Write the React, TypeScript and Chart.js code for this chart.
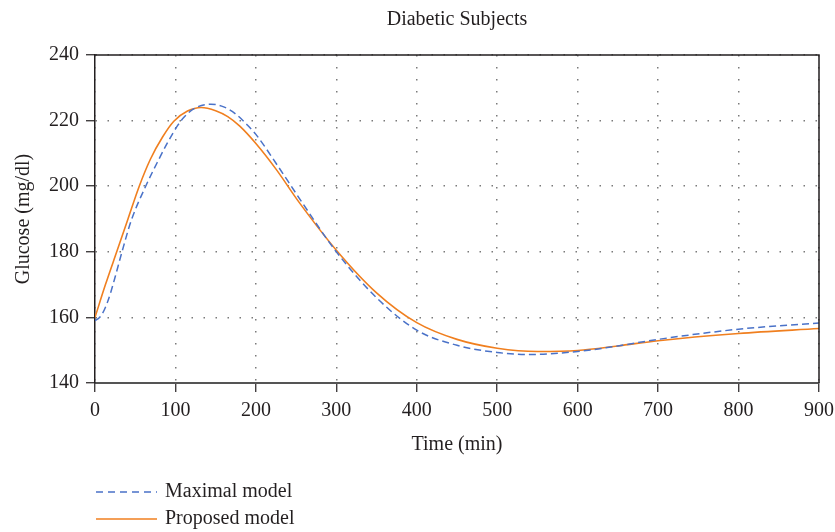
import React, { useEffect, useRef } from 'react';
import { Chart, registerables } from 'chart.js';

Chart.register(...registerables);

const chartTitle = 'Diabetic Subjects';
const xAxisTitle = 'Time (min)';
const yAxisTitle = 'Glucose (mg/dl)';
const seriesLabels = ['Maximal model', 'Proposed model'];
const seriesColors = ['#4a72c8', '#f07f1f'];

const xTicks = [0, 100, 200, 300, 400, 500, 600, 700, 800, 900];
const yTicks = [140, 160, 180, 200, 220, 240];

const timeMaximal = [0, 5, 10, 15, 20, 25, 33, 45, 63, 80, 90, 103, 112, 125, 144, 160, 175, 190, 200, 225, 254, 300, 350, 400, 450, 500, 540, 600, 650, 700, 800, 900];
const glucoseMaximal = [159, 159.8, 161.5, 164.3, 168, 172.3, 179.5, 189.5, 200, 208.5, 213.2, 218.6, 221.4, 223.9, 225, 224.2, 222, 218.5, 215.8, 207, 196.3, 180, 166, 156.1, 151.5, 149.3, 148.7, 149.6, 151.3, 153.3, 156.4, 158.3];

const timeProposed = [0, 13, 27, 41, 55, 69, 84, 98, 115, 132, 150, 165, 180, 200, 225, 254, 300, 350, 400, 450, 500, 550, 600, 650, 700, 800, 900];
const glucoseProposed = [160, 170, 180, 190, 200, 208.3, 215, 219.8, 222.9, 224, 223, 221.2, 218.3, 213, 205.2, 195, 180.5, 167.5, 158.4, 153.3, 150.6, 149.6, 149.9, 151.3, 152.9, 155.1, 156.6];

export default function App() {
  const ref = useRef<HTMLCanvasElement>(null);

  useEffect(() => {
    if (!ref.current) return;
    const FONT = "'Liberation Serif', 'Times New Roman', serif";
    const INK = '#231f20';
    const GRID = '#7a7a7a';

    const frameLegend = {
      id: 'frameLegend',
      afterDraw(chart: any) {
        const { ctx, chartArea: a } = chart;
        ctx.save();
        ctx.strokeStyle = INK;
        ctx.lineWidth = 1.5;
        ctx.setLineDash([]);
        ctx.beginPath();
        ctx.moveTo(a.left, a.top);
        ctx.lineTo(a.right, a.top);
        ctx.lineTo(a.right, a.bottom);
        ctx.stroke();

        // title centred over the plot area
        ctx.fillStyle = INK;
        ctx.font = `20px ${FONT}`;
        ctx.textAlign = 'center';
        ctx.textBaseline = 'middle';
        ctx.fillText(chartTitle, (a.left + a.right) / 2, a.top - 35);

        const rows = [a.bottom + 109, a.bottom + 136];
        const dashes = [[7, 5], []];
        seriesLabels.forEach((label, i) => {
          const y = rows[i];
          ctx.strokeStyle = seriesColors[i];
          ctx.lineWidth = 1.5;
          ctx.setLineDash(dashes[i]);
          ctx.beginPath();
          ctx.moveTo(a.left + 1, y);
          ctx.lineTo(a.left + 62, y);
          ctx.stroke();
          ctx.setLineDash([]);
          ctx.fillStyle = INK;
          ctx.textAlign = 'left';
          ctx.textBaseline = 'middle';
          ctx.fillText(label, a.left + 70, y);
        });
        ctx.restore();
      },
    };

    const chart = new Chart(ref.current, {
      type: 'line',
      data: {
        datasets: [
          {
            label: seriesLabels[0],
            data: timeMaximal.map((t, i) => ({ x: t, y: glucoseMaximal[i] })),
            borderColor: seriesColors[0],
            borderWidth: 1.5,
            borderDash: [7, 4],
            pointRadius: 0,
            fill: false,
            cubicInterpolationMode: 'monotone',
          },
          {
            label: seriesLabels[1],
            data: timeProposed.map((t, i) => ({ x: t, y: glucoseProposed[i] })),
            borderColor: seriesColors[1],
            borderWidth: 1.6,
            pointRadius: 0,
            fill: false,
            cubicInterpolationMode: 'monotone',
          },
        ],
      },
      options: {
        responsive: false,
        animation: false,
        layout: { padding: { left: 0, right: 16, top: 55, bottom: 72 } },
        plugins: {
          legend: { display: false },
          tooltip: { enabled: false },
          title: { display: false },
        },
        scales: {
          x: {
            type: 'linear',
            min: 0,
            max: 900,
            afterBuildTicks: (s: any) => { s.ticks = xTicks.map((v) => ({ value: v })); },
            afterFit: (s: any) => { s.height = 77; s.paddingLeft = 0; s.paddingRight = 0; },
            ticks: { color: INK, font: { family: FONT, size: 20 }, padding: 7, maxRotation: 0, autoSkip: false },
            grid: { color: GRID, lineWidth: 1.5, tickColor: INK, tickLength: 9, tickWidth: 1.2, tickBorderDash: [] },
            border: { display: true, color: '#555555', width: 2, dash: [1.5, 10.5] },
            title: { display: true, text: xAxisTitle, color: INK, font: { family: FONT, size: 20 }, padding: { top: 0, bottom: 3 } },
          },
          y: {
            type: 'linear',
            min: 140,
            max: 240,
            afterBuildTicks: (s: any) => { s.ticks = yTicks.map((v) => ({ value: v })); },
            afterFit: (s: any) => { s.width = 95; s.paddingTop = 0; s.paddingBottom = 0; },
            ticks: { color: INK, font: { family: FONT, size: 20 }, padding: 7 },
            grid: { color: GRID, lineWidth: 1.5, tickColor: INK, tickLength: 9, tickWidth: 1.2, tickBorderDash: [] },
            border: { display: true, color: INK, width: 1.5, dash: [1.5, 10.5] },
            title: { display: true, text: yAxisTitle, color: INK, font: { family: FONT, size: 20 }, padding: { top: 12, bottom: 0 } },
          },
        },
      },
      plugins: [frameLegend],
    } as any);

    return () => chart.destroy();
  }, []);

  return (
    <div style={{ position: 'absolute', left: 0, top: 0, width: 835, height: 532, background: '#fff' }}>
      <canvas ref={ref} width={835} height={532} />
    </div>
  );
}
